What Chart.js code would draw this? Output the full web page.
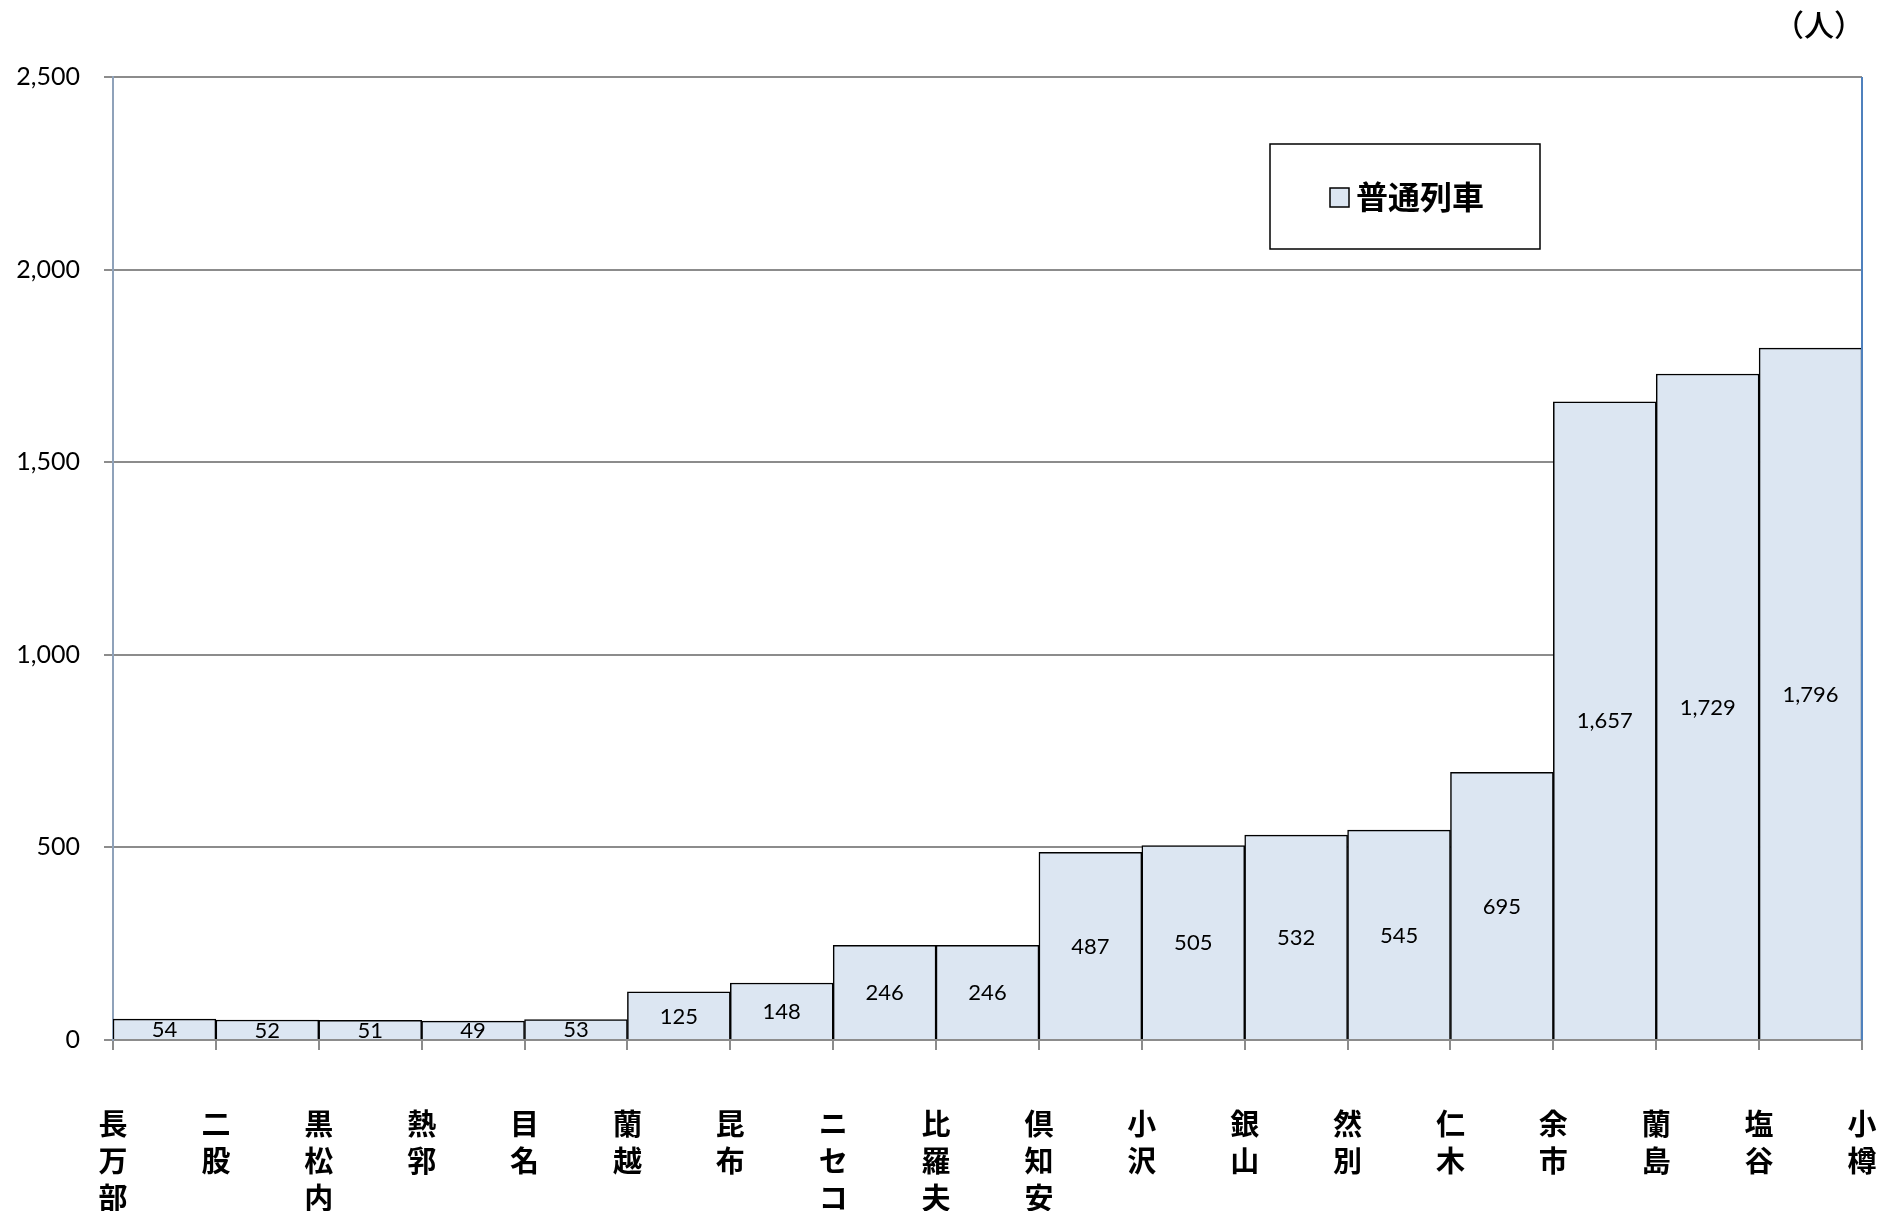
<!DOCTYPE html>
<html lang="ja">
<head>
<meta charset="utf-8">
<title>普通列車</title>
<script src="https://cdn.jsdelivr.net/npm/chart.js@4.4.1/dist/chart.umd.min.js"></script>
<style>
    html, body { margin: 0; padding: 0; background: #fff; }
    #wrap { position: relative; width: 1892px; height: 1211px; }
</style>
</head>
<body>
<div id="wrap"><canvas id="chartPasajeros"></canvas></div>
<script>
/* Datos del gráfico */
const estaciones = ['長万部', '二股', '黒松内', '熱郛', '目名', '蘭越', '昆布', 'ニセコ', '比羅夫',
    '倶知安', '小沢', '銀山', '然別', '仁木', '余市', '蘭島', '塩谷', '小樽'];
const pasajeros = [54, 52, 51, 49, 53, 125, 148, 246, 246, 487, 505, 532, 545, 695, 1657, 1729, 1796];
const ticksY = [0, 500, 1000, 1500, 2000, 2500];
const nombreSerie = '普通列車';
const unidad = '（人）';

const colorBarra = '#DCE6F2';
const fuenteNum = 'Lato, "Open Sans", sans-serif';
const fuenteJp = '"Noto Sans CJK JP", sans-serif';

// cada barra ocupa el tramo entre dos estaciones
const puntos = pasajeros.map((v, i) => ({ x: i + 0.5, y: v }));

/**
 * Etiquetas de valor, leyenda y unidad
 */
const pluginExtras = {
    id: 'extras',
    afterDatasetsDraw(chart) {
        const ctx = chart.ctx;
        const area = chart.chartArea;
        const meta = chart.getDatasetMeta(0);

        ctx.save();
        ctx.font = '22px ' + fuenteNum;
        ctx.fillStyle = '#000';
        ctx.textAlign = 'center';
        ctx.textBaseline = 'middle';
        meta.data.forEach((bar, i) => {
            const yMid = (bar.y + bar.base) / 2;
            ctx.fillText(pasajeros[i].toLocaleString('en-US'), bar.x, yMid + 1);
        });

        // borde derecho del área
        ctx.strokeStyle = '#4F81BD';
        ctx.lineWidth = 2;
        ctx.beginPath();
        ctx.moveTo(area.right, area.top);
        ctx.lineTo(area.right, area.bottom);
        ctx.stroke();

        // leyenda dentro del gráfico
        const lx = 1270, ly = 144, lw = 270, lh = 105;
        ctx.fillStyle = '#fff';
        ctx.fillRect(lx, ly, lw, lh);
        ctx.strokeStyle = '#000';
        ctx.lineWidth = 1.5;
        ctx.strokeRect(lx, ly, lw, lh);
        ctx.fillStyle = colorBarra;
        ctx.fillRect(lx + 60, ly + 44, 19, 19);
        ctx.strokeRect(lx + 60, ly + 44, 19, 19);
        ctx.fillStyle = '#000';
        ctx.font = 'bold 32px ' + fuenteJp;
        ctx.textAlign = 'left';
        ctx.fillText(chart.data.datasets[0].label, lx + 86, ly + 53);

        // unidad arriba a la derecha
        ctx.font = '500 30px ' + fuenteJp;
        ctx.textAlign = 'right';
        ctx.fillText(unidad, area.right + 2, 25);
        ctx.restore();
    }
};

function inicializarChart() {
    const ctx = document.getElementById('chartPasajeros');

    new Chart(ctx, {
        type: 'bar',
        data: {
            datasets: [{
                label: nombreSerie,
                data: puntos,
                backgroundColor: colorBarra,
                borderColor: '#000',
                borderWidth: 1.5,
                barPercentage: 1,
                categoryPercentage: 1
            }]
        },
        options: {
            responsive: true,
            maintainAspectRatio: false,
            animation: false,
            layout: {
                padding: { top: 77, right: 30, bottom: 0, left: 0 }
            },
            plugins: {
                legend: { display: false },
                tooltip: { enabled: false }
            },
            scales: {
                x: {
                    type: 'linear',
                    min: 0,
                    max: estaciones.length - 1,
                    offset: false,
                    afterBuildTicks: (scale) => {
                        scale.ticks = estaciones.map((_, i) => ({ value: i }));
                    },
                    afterFit: (scale) => {
                        scale.height = 171;
                        scale.paddingLeft = 0;
                        scale.paddingRight = 0;
                    },
                    ticks: {
                        autoSkip: false,
                        maxRotation: 0,
                        padding: 56,
                        color: '#000',
                        font: { family: fuenteJp, size: 29, weight: 'bold', lineHeight: 1.27 },
                        callback: (v) => estaciones[v] ? estaciones[v].split('') : ''
                    },
                    grid: {
                        offset: false,
                        drawOnChartArea: false,
                        drawTicks: true,
                        tickLength: 10,
                        color: '#8C8C8C',
                        lineWidth: 2
                    },
                    border: { color: '#8C8C8C', width: 2 }
                },
                y: {
                    min: 0,
                    max: 2500,
                    afterBuildTicks: (scale) => {
                        scale.ticks = ticksY.map(v => ({ value: v }));
                    },
                    afterFit: (scale) => { scale.width = 113; },
                    ticks: {
                        padding: 24,
                        color: '#000',
                        font: { family: fuenteNum, size: 25 },
                        callback: (v) => v.toLocaleString('en-US')
                    },
                    grid: {
                        color: '#8C8C8C',
                        lineWidth: 2,
                        tickLength: 9
                    },
                    border: { color: '#8FA2BA', width: 2 }
                }
            }
        },
        plugins: [pluginExtras]
    });
}

if (document.readyState === 'loading') {
    document.addEventListener('DOMContentLoaded', inicializarChart);
} else {
    inicializarChart();
}
</script>
</body>
</html>
